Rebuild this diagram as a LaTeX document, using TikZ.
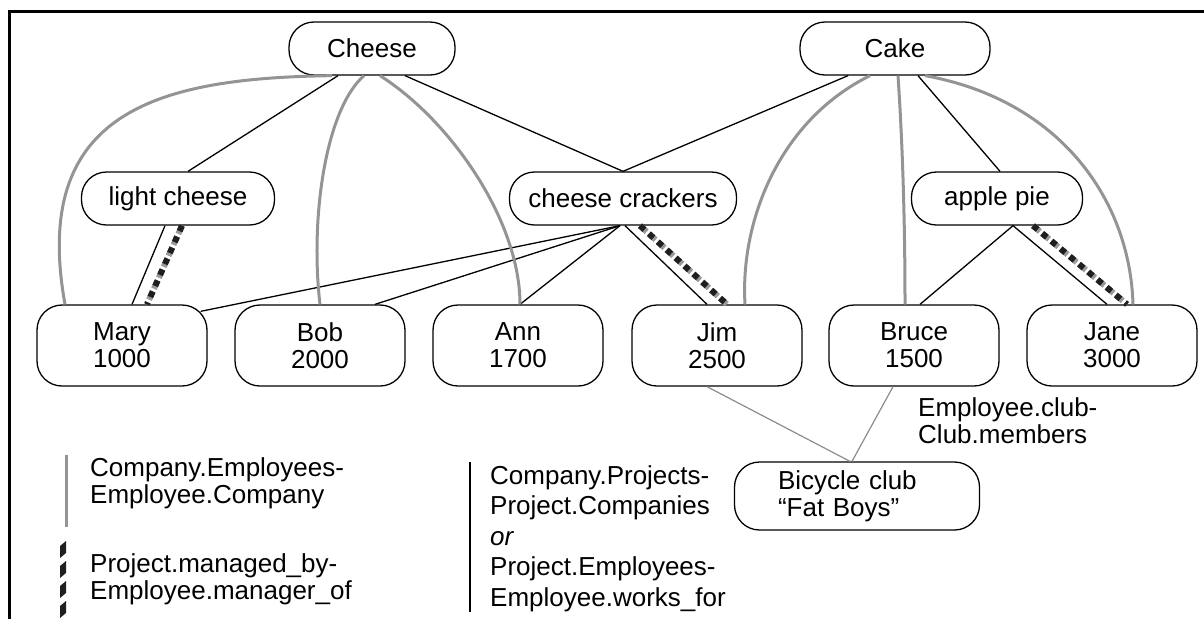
\documentclass[tikz,border=0pt]{standalone}
\usepackage{fontspec}
\setmainfont{Liberation Sans}
\begin{document}
\begin{tikzpicture}[x=1pt,y=-1pt,
  every node/.style={font=\fontsize{26}{27}\selectfont, inner sep=0pt},
  box/.style={draw, line width=1.3pt, rounded corners=25pt, align=center},
  topbox/.style={box, minimum height=53pt},
  emp/.style={box, minimum width=170pt, minimum height=81pt},
  proj/.style={line width=1.3pt},
  empco/.style={line width=3pt, draw=black!42},
  club/.style={line width=1.2pt, draw=black!45},
  mgr/.style={line width=6pt, draw=black!88, dash pattern=on 6pt off 6pt,
    preaction={draw, line width=6pt, draw=black!40, dash pattern=on 9pt off 3pt}},
  legend/.style={anchor=north west, align=left}]
\useasboundingbox (0,0) rectangle (1204,619);
% frame
\draw[line width=3pt] (9.5,619) -- (9.5,11) -- (1204,11);

% products
\node[topbox, minimum width=166pt] (cheese) at (372,48.5) {Cheese};
\node[topbox, minimum width=190pt] (cake) at (895,48.5) {Cake};
\node[topbox, minimum width=193pt] (light) at (178,198.5) {light cheese};
\node[topbox, minimum width=227pt] (crackers) at (623,198.5) {cheese crackers};
\node[topbox, minimum width=171pt] (pie) at (997,198.5) {apple pie};

% employees
\node[emp] (mary) at (122,345.5) {Mary\\1000};
\node[emp] (bob) at (320,345.5) {Bob\\2000};
\node[emp] (ann) at (518,345.5) {Ann\\1700};
\node[emp] (jim) at (717,345.5) {Jim\\2500};
\node[emp] (bruce) at (914,345.5) {Bruce\\1500};
\node[emp] (jane) at (1112,345.5) {Jane\\3000};

% club
\node[box, minimum width=245pt, minimum height=68pt, text width=158pt, align=left] (bike) at (857,496) {Bicycle club\\``Fat Boys''};

% product / project relations
\draw[proj] ([xshift=-34pt]cheese.south) -- ([xshift=10pt]light.north);
\draw[proj] ([xshift=33pt]cheese.south) -- (crackers.north);
\draw[proj] ([xshift=-47pt]cake.south) -- (crackers.north);
\draw[proj] ([xshift=23pt]cake.south) -- ([xshift=3pt]pie.north);
\draw[proj] ([xshift=-13pt]light.south) -- ([xshift=10pt]mary.north);
\draw[proj] ([xshift=-3pt]crackers.south) -- ([xshift=-7pt,yshift=-7pt]mary.north east);
\draw[proj] ([xshift=-3pt]crackers.south) -- ([xshift=55pt]bob.north);
\draw[proj] ([xshift=-3pt]crackers.south) -- ([xshift=2pt]ann.north);
\draw[proj] ([xshift=2pt]crackers.south) -- ([xshift=-10pt]jim.north);
\draw[proj] ([xshift=16pt]pie.south) -- ([xshift=6pt]bruce.north);
\draw[proj] ([xshift=16pt]pie.south) -- ([xshift=-5pt]jane.north);

% managers
\draw[mgr] ([xshift=4pt]light.south) -- ([xshift=25pt]mary.north);
\draw[mgr] ([xshift=17pt]crackers.south) -- ([xshift=10pt]jim.north);
\draw[mgr] ([xshift=36pt]pie.south) -- ([xshift=15pt]jane.north);

% company employees
\draw[empco] ([xshift=-40pt]cheese.south) .. controls (160,78) and (30,110) .. ([xshift=-57pt]mary.north);
\draw[empco] ([xshift=-8pt]cheese.south) .. controls (325,110) and (310,220) .. (bob.north);
\draw[empco] ([xshift=8pt]cheese.south) .. controls (450,120) and (520,220) .. ([xshift=2pt]ann.north);
\draw[empco] ([xshift=-25pt]cake.south) .. controls (780,120) and (740,220) .. ([xshift=28pt]jim.north);
\draw[empco] ([xshift=3pt]cake.south) .. controls (903,150) and (905,230) .. ([xshift=-9pt]bruce.north);
\draw[empco] ([xshift=30pt]cake.south) .. controls (1060,100) and (1130,200) .. ([xshift=21pt]jane.north);

% club membership
\draw[club] ([xshift=-10pt]jim.south) -- ([xshift=-7pt]bike.north);
\draw[club] ([xshift=-21pt]bruce.south) -- ([xshift=-5pt]bike.north);
\node[legend] (clublbl) at (918,397) {Employee.club-\\Club.members};

% legend
\coordinate (g1) at (66,455);
\coordinate (g2) at (66,527);
\draw[empco] (g1) -- (g2);
\node[legend] (lg1) at (90,457) {Company.Employees-\\Employee.Company};

\foreach \y in {541,561,581,601}
  \fill[black!88] (60,\y+5) -- (66,\y) -- (66,\y+12) -- (60,\y+17) -- cycle;
\node[legend] (lg2) at (90,553) {Project.managed\_by-\\Employee.manager\_of};

\coordinate (b1) at (470,462);
\coordinate (b2) at (470,612);
\draw[proj] (b1) -- (b2);
\node[legend, font=\fontsize{26}{30.5}\selectfont] (lg3) at (490,465) {Company.Projects-\\Project.Companies\\\textit{or}\\Project.Employees-\\Employee.works\_for};
\end{tikzpicture}
\end{document}
